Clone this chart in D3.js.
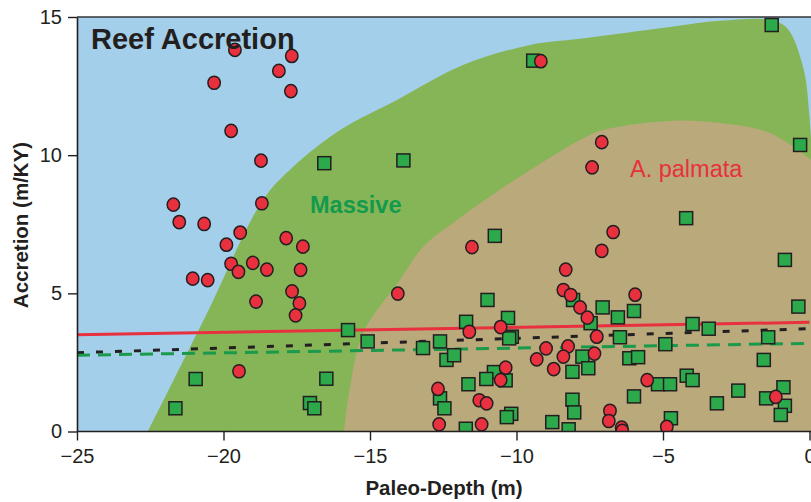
<!DOCTYPE html>
<html><head><meta charset="utf-8">
<script src="https://cdn.jsdelivr.net/npm/d3@7/dist/d3.min.js"></script>
<style>html,body{margin:0;padding:0;background:#fff;} svg{display:block;font-family:"Liberation Sans",Arial,sans-serif;}</style>
</head><body><svg id="c" width="811" height="502"></svg>
<script>
// ---- data ----
const xTicks = [-25, -20, -15, -10, -5, 0];
const yTicks = [0, 5, 10, 15];

// Massive (green squares)
const massiveX = [-21.64,-20.95,-17.05,-16.90,-16.49,-16.56,-13.86,-9.43,-10.74,-10.99,-15.75,-15.08,-11.72,-10.29,-10.16,-10.25,-12.61,-13.19,-12.39,-12.13,-10.77,-11.03,-10.37,-11.64,-12.61,-12.46,-10.18,-10.33,-8.78,-11.73,-8.09,-8.09,-8.03,-8.22,-8.07,-4.21,-0.84,-0.38,-7.06,-6.54,-5.99,-7.47,-3.99,-3.44,-6.47,-4.92,-1.41,-7.75,-7.55,-6.15,-5.85,-4.19,-3.99,-1.56,-5.17,-4.76,-5.99,-2.43,-0.89,-1.48,-0.84,-0.98,-3.16,-4.73,-1.29,-0.32];
const massiveY = [0.84,1.90,1.03,0.84,1.91,9.71,9.81,13.42,7.08,4.76,3.67,3.26,3.97,4.11,3.43,3.37,3.26,3.02,2.59,2.76,2.15,1.90,1.85,1.71,1.20,0.84,0.64,0.52,0.34,0.10,1.15,2.16,0.69,0.08,4.76,7.72,6.21,4.52,4.49,4.13,4.36,3.92,3.89,3.72,3.41,3.16,3.41,2.71,2.29,2.65,2.69,2.02,1.86,2.59,1.71,1.71,1.27,1.48,1.60,1.20,0.93,0.60,1.02,0.48,14.71,10.37];

// A. palmata (red circles)
const palmataX = [-19.61,-17.67,-20.32,-18.11,-17.70,-19.74,-18.72,-21.71,-18.69,-21.51,-20.66,-19.43,-19.90,-17.86,-17.29,-19.74,-19.49,-19.00,-18.52,-17.37,-21.05,-20.54,-17.66,-17.41,-18.89,-17.54,-19.47,-9.17,-11.52,-14.05,-11.61,-10.54,-8.32,-8.40,-8.15,-7.83,-8.99,-8.24,-8.40,-9.31,-8.73,-10.37,-10.54,-12.68,-11.27,-11.02,-12.64,-11.19,-6.70,-7.09,-5.95,-7.58,-7.26,-7.34,-5.54,-6.81,-6.85,-6.41,-6.39,-4.87,-1.15,-7.09,-7.42];
const palmataY = [13.81,13.59,12.62,13.05,12.32,10.88,9.80,8.21,8.26,7.58,7.51,7.20,6.76,7.00,6.69,6.07,5.78,6.10,5.86,5.85,5.53,5.48,5.07,4.64,4.70,4.20,2.18,13.40,6.67,4.99,3.61,3.78,5.86,5.12,4.94,4.49,3.01,3.08,2.71,2.61,2.26,2.31,1.86,1.54,1.13,1.02,0.26,0.26,7.22,6.54,4.95,4.12,3.43,2.82,1.86,0.75,0.38,0.14,0.02,0.17,1.25,10.47,9.56];

// Envelope outlines (upper edges of shaded zones)
const massiveEdgeX = [-22.58,-20.6,-18.65,-17.63,-16.02,-14.08,-11.83,-9.54,-7.83,-4.76,-3.05,-1.35,-0.77,-0.22,0.0,0.15];
const massiveEdgeY = [0,4.2,8.38,9.57,10.91,12.0,13.26,13.99,14.21,14.64,14.86,14.89,14.6,13.19,11.4,8.0];
const palmataEdgeX = [-15.89,-15.68,-15.24,-13.98,-13.19,-12.03,-10.22,-7.83,-7.05,-4.76,-3.05,-1.35,0.05];
const palmataEdgeY = [0,1.61,3.56,5.48,6.68,7.65,8.99,10.55,10.91,11.24,11.16,10.8,9.83];

// Trend lines (endpoints at x=-25 and x=0)
const trendX = [-25, 0];
const palmataTrend = [3.50, 3.95];
const allTrend = [2.85, 3.72];
const massiveTrend = [2.76, 3.19];

// ---- layout ----
const svg = d3.select("#c");
const L = 77, T = 17, R = 809.5, B = 431.5;
const x = d3.scaleLinear().domain([-25, 0]).range([L, R]);
const y = d3.scaleLinear().domain([0, 15]).range([B, T]);

const ink = "#231f20";
svg.append("defs").append("clipPath").attr("id","plot")
  .append("rect").attr("x", L).attr("y", T).attr("width", 811 - L).attr("height", B - T);

const g = svg.append("g").attr("clip-path","url(#plot)");
g.append("rect").attr("x", L).attr("y", T).attr("width", 811 - L).attr("height", B - T).attr("fill", "#a3cfea");

const area = (ex, ey) => {
  const pts = ex.map((v,i)=>[v, ey[i]]);
  const curve = d3.line().x(d=>x(d[0])).y(d=>y(d[1])).curve(d3.curveCatmullRom.alpha(0.5))(pts);
  const last = pts[pts.length-1];
  return curve + `L${x(last[0])+5},${y(last[1])}L${x(last[0])+5},${y(0)+2}L${x(pts[0][0])},${y(0)+2}Z`;
};
g.append("path").attr("d", area(massiveEdgeX, massiveEdgeY)).attr("fill", "#86b557");
g.append("path").attr("d", area(palmataEdgeX, palmataEdgeY)).attr("fill", "#b9a97b");

// trend lines
const tl = (vals) => d3.line().x((d,i)=>x(trendX[i])).y(d=>y(d))(vals);
g.append("path").attr("d", tl(palmataTrend)).attr("stroke", "#e8303f").attr("stroke-width", 3).attr("fill","none");
g.append("path").attr("d", tl(allTrend)).attr("stroke", ink).attr("stroke-width", 3).attr("stroke-dasharray","7 12").attr("fill","none");
g.append("path").attr("d", tl(massiveTrend)).attr("stroke", "#1a9a4a").attr("stroke-width", 3).attr("stroke-dasharray","13 8").attr("fill","none");

// labels in plot
svg.append("text").attr("x", 91).attr("y", 49).attr("font-size", 29).attr("font-weight","bold").attr("fill", ink).text("Reef Accretion");
svg.append("text").attr("x", 310).attr("y", 213).attr("font-size", 23.5).attr("font-weight","bold").attr("fill", "#139a4c").text("Massive");
svg.append("text").attr("x", 630).attr("y", 177).attr("font-size", 23.5).attr("fill", "#e8303f").text("A. palmata");

// points
const S = 13;
g.selectAll("rect.m").data(massiveX).enter().append("rect").attr("class","m")
  .attr("x", (d,i)=>x(d)-S/2).attr("y",(d,i)=>y(massiveY[i])-S/2).attr("width",S).attr("height",S)
  .attr("fill","#2ca94b").attr("stroke", ink).attr("stroke-width",1.5);
g.selectAll("ellipse.p").data(palmataX).enter().append("ellipse").attr("class","p")
  .attr("cx", d=>x(d)).attr("cy",(d,i)=>y(palmataY[i])).attr("rx",6.2).attr("ry",6.6)
  .attr("fill","#e8303f").attr("stroke", ink).attr("stroke-width",1.5);

// frame top
svg.append("line").attr("x1", L).attr("x2", 811).attr("y1", T).attr("y2", T).attr("stroke", "#333").attr("stroke-width", 1.5);

// axes
const fmt = d => d < 0 ? "\u2212" + Math.abs(d) : String(d);
const xa = svg.append("g").attr("transform", `translate(0,${B})`)
  .call(d3.axisBottom(x).tickValues(xTicks).tickFormat(fmt).tickSize(9).tickPadding(8).tickSizeOuter(0));
const ya = svg.append("g").attr("transform", `translate(${L},0)`)
  .call(d3.axisLeft(y).tickValues(yTicks).tickFormat(fmt).tickSize(9).tickPadding(6).tickSizeOuter(0));
[xa, ya].forEach(a => {
  a.select(".domain").attr("stroke", ink).attr("stroke-width", 1.6);
  a.selectAll(".tick line").attr("stroke", ink).attr("stroke-width", 1.4);
  a.selectAll("text").attr("font-size", 20).attr("fill", ink).attr("font-family", '"Liberation Sans", Arial, sans-serif');
});
xa.select(".domain").attr("d", `M${L},0H811`);

svg.append("text").attr("x", 444).attr("y", 495).attr("text-anchor","middle").attr("font-size", 20.5).attr("font-weight","bold").attr("fill", ink).text("Paleo-Depth (m)");
svg.append("text").attr("transform","translate(28,225) rotate(-90)").attr("text-anchor","middle").attr("font-size", 20.5).attr("font-weight","bold").attr("fill", ink).text("Accretion (m/KY)");
</script></body></html>
